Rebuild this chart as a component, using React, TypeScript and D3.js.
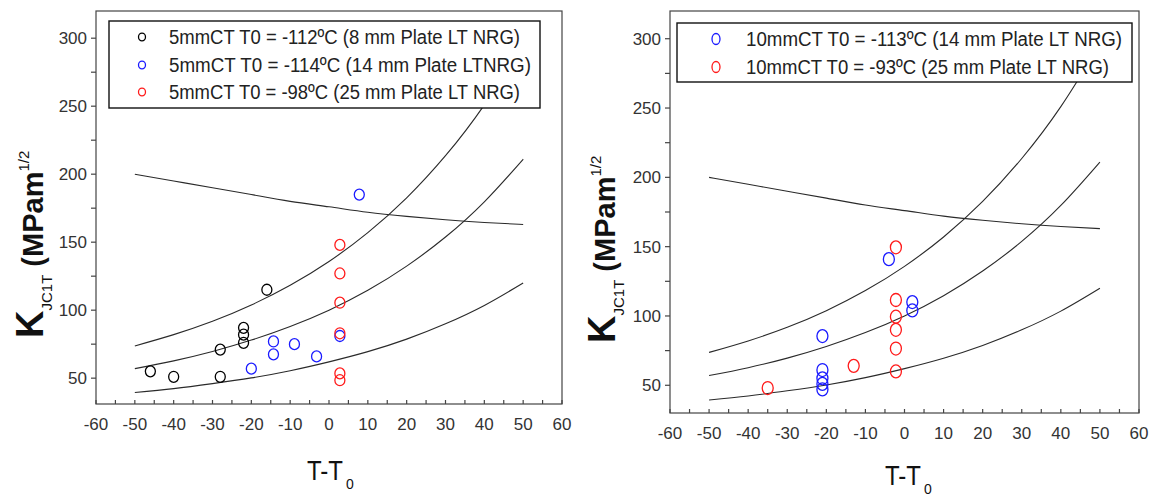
import React from "react";
import * as d3 from "d3";

// ---- Data ----
const tempGrid = [-50, -40, -30, -20, -10, 0, 10, 20, 30, 40, 50];
const lowerBound = [39.4, 42.3, 46, 50.2, 55.5, 62, 69.5, 78.7, 90, 103.5, 120];
const medianCurve = [57, 62.7, 69.6, 78, 88, 100, 114.6, 132.4, 153.8, 179.7, 211];
const upperBound = [73.7, 82, 91.8, 103.8, 118.3, 135.8, 157, 182.6, 213.6, 251, 296];
const limitCurve = [200, 195, 190, 185, 180, 176, 172, 169, 166.5, 164.5, 163];

const xTicks = [-60, -50, -40, -30, -20, -10, 0, 10, 20, 30, 40, 50, 60];
const xMinorTicks = [-55, -45, -35, -25, -15, -5, 5, 15, 25, 35, 45, 55];
const yTicks = [50, 100, 150, 200, 250, 300];
const yMinorTicks = [75, 125, 175, 225, 275];

// Left panel: 5mm CT
const blk5T = [-46, -40, -28, -28, -22, -22, -22, -16];
const blk5K = [55, 51, 71, 51, 87, 82, 76, 115];
const blu5T = [-20, -14.3, -14.3, -8.9, -3.2, 2.8, 7.8];
const blu5K = [57, 77, 67.5, 75, 66, 81, 185];
const red5T = [2.8, 2.8, 2.8, 2.8, 2.8, 2.8];
const red5K = [148, 127, 105.5, 83, 53.5, 48.5];

// Right panel: 10mm CT
const blu10T = [-4, 2, 2, -21, -21, -21, -21, -21];
const blu10K = [141, 110, 104, 85.5, 61, 55, 51, 47];
const red10T = [-2.2, -2.2, -2.2, -2.2, -2.2, -2.2, -13, -35];
const red10K = [149.5, 111.5, 99.5, 90, 76.5, 60, 64, 48];

const leftLegend = [
  "5mmCT T0 = -112ºC (8 mm Plate LT NRG)",
  "5mmCT T0 = -114ºC (14 mm Plate LTNRG)",
  "5mmCT T0 = -98ºC (25 mm Plate LT NRG)",
];
const rightLegend = [
  "10mmCT T0 = -113ºC (14 mm Plate LT NRG)",
  "10mmCT T0 = -93ºC (25 mm Plate LT NRG)",
];

type Series = { T: number[]; K: number[]; color: string };
type LegendRow = { text: string; color: string; len: number };

interface PanelProps {
  xr: [number, number];
  yr: [number, number];
  yDomain: [number, number];
  series: Series[];
  rx: number;
  ry: number;
  legendBox: [number, number, number, number];
  legendRows: LegendRow[];
  legendMarkerX: number;
  legendRowY: number[];
  legendTextX: number;
  legendMr: [number, number];
  xLabelY: number;
  xTitleX: number;
  xTitleY: number;
  yLabelPos: [number, number];
}

const FONT = "'Liberation Sans', Arial, sans-serif";

function Panel(p: PanelProps) {
  const x = d3.scaleLinear().domain([-60, 60]).range(p.xr);
  const y = d3.scaleLinear().domain(p.yDomain).range(p.yr);
  const line = d3
    .line<number>()
    .x((_, i) => x(tempGrid[i]))
    .y((d) => y(d))
    .curve(d3.curveNatural);
  const curves = [lowerBound, medianCurve, upperBound, limitCurve];
  const [bx, by, bw, bh] = p.legendBox;
  const axisColor = "#444";
  return (
    <g>
      {/* curves */}
      {curves.map((c, i) => (
        <path key={i} d={line(c) || ""} fill="none" stroke="#2a2a2a" strokeWidth={1.1} />
      ))}
      {/* data points */}
      {p.series.map((s, si) =>
        s.T.map((t, i) => (
          <ellipse
            key={si + "-" + i}
            cx={x(t)}
            cy={y(s.K[i])}
            rx={p.rx}
            ry={p.ry}
            fill="none"
            stroke={s.color}
            strokeWidth={1.3}
          />
        ))
      )}
      {/* frame */}
      <rect
        x={p.xr[0]}
        y={p.yr[1]}
        width={p.xr[1] - p.xr[0]}
        height={p.yr[0] - p.yr[1]}
        fill="none"
        stroke={axisColor}
        strokeWidth={1.2}
      />
      {/* x ticks (inward) */}
      {xTicks.concat(xMinorTicks).map((t) => (
        <line key={"xt" + t} x1={x(t)} x2={x(t)} y1={p.yr[0]} y2={p.yr[0] - 4} stroke={axisColor} strokeWidth={1.2} />
      ))}
      {xTicks.map((t) => (
        <text
          key={"xl" + t}
          x={x(t)}
          y={p.xLabelY}
          textAnchor="middle"
          fontFamily={FONT}
          fontSize={17}
          fill="#333"
        >
          {t}
        </text>
      ))}
      {/* y ticks (outward) */}
      {yTicks.concat(yMinorTicks).map((t) => (
        <line key={"yt" + t} x1={p.xr[0]} x2={p.xr[0] - 5} y1={y(t)} y2={y(t)} stroke={axisColor} strokeWidth={1.2} />
      ))}
      {yTicks.map((t) => (
        <text
          key={"yl" + t}
          x={p.xr[0] - 9}
          y={y(t)}
          dy="0.35em"
          textAnchor="end"
          fontFamily={FONT}
          fontSize={17}
          fill="#333"
        >
          {t}
        </text>
      ))}
      {/* x title */}
      <text x={p.xTitleX} y={p.xTitleY} fontFamily={FONT} fontSize={27} fill="#111">
        <tspan textLength={36} lengthAdjust="spacingAndGlyphs">T-T</tspan>
        <tspan fontSize={14} dx={3} dy={9}>0</tspan>
      </text>
      {/* y title */}
      <text
        transform={`translate(${p.yLabelPos[0]},${p.yLabelPos[1]}) rotate(-90)`}
        fontFamily={FONT}
        fill="#111"
      >
        <tspan fontSize={38} fontWeight="bold">K</tspan>
        <tspan fontSize={15} dy={9}>JC1T</tspan>
        <tspan fontSize={29} fontWeight="bold" dy={-9}>{" (MPam"}</tspan>
        <tspan fontSize={15} dy={-14}>1/2</tspan>
      </text>
      {/* legend */}
      <rect x={bx} y={by} width={bw} height={bh} fill="#fff" stroke="#111" strokeWidth={1.4} />
      {p.legendRows.map((r, i) => (
        <g key={"lg" + i}>
          <ellipse
            cx={p.legendMarkerX}
            cy={p.legendRowY[i]}
            rx={p.legendMr[0]}
            ry={p.legendMr[1]}
            fill="none"
            stroke={r.color}
            strokeWidth={1.3}
          />
          <text
            x={p.legendTextX}
            y={p.legendRowY[i] + 7}
            fontFamily={FONT}
            fontSize={20}
            fill="#222"
            textLength={r.len}
            lengthAdjust="spacingAndGlyphs"
          >
            {r.text}
          </text>
        </g>
      ))}
    </g>
  );
}

export default function App() {
  return (
    <svg
      width={1154}
      height={499}
      style={{ position: "absolute", left: 0, top: 0, background: "#fff" }}
    >
      <rect width={1154} height={499} fill="#fff" />
      <Panel
        xr={[96, 562]}
        yr={[404, 11]}
        yDomain={[31, 320]}
        series={[
          { T: blk5T, K: blk5K, color: "#000" },
          { T: blu5T, K: blu5K, color: "#1a1aff" },
          { T: red5T, K: red5K, color: "#ff1a1a" },
        ]}
        rx={5}
        ry={5.5}
        legendBox={[109, 21, 431, 87]}
        legendRows={[
          { text: leftLegend[0], color: "#000", len: 351 },
          { text: leftLegend[1], color: "#1a1aff", len: 362 },
          { text: leftLegend[2], color: "#ff1a1a", len: 351 },
        ]}
        legendMarkerX={142}
        legendRowY={[37, 65, 92]}
        legendTextX={169}
        legendMr={[3.5, 3.8]}
        xLabelY={430}
        xTitleX={307}
        xTitleY={480}
        yLabelPos={[43, 338]}
      />
      <Panel
        xr={[670, 1139]}
        yr={[413, 11]}
        yDomain={[30, 320]}
        series={[
          { T: blu10T, K: blu10K, color: "#1a1aff" },
          { T: red10T, K: red10K, color: "#ff1a1a" },
        ]}
        rx={5.5}
        ry={6.5}
        legendBox={[677, 23, 455, 59]}
        legendRows={[
          { text: rightLegend[0], color: "#1a1aff", len: 376 },
          { text: rightLegend[1], color: "#ff1a1a", len: 363 },
        ]}
        legendMarkerX={716}
        legendRowY={[39, 67]}
        legendTextX={746}
        legendMr={[4, 5.5]}
        xLabelY={439}
        xTitleX={885}
        xTitleY={485}
        yLabelPos={[615, 343]}
      />
    </svg>
  );
}
